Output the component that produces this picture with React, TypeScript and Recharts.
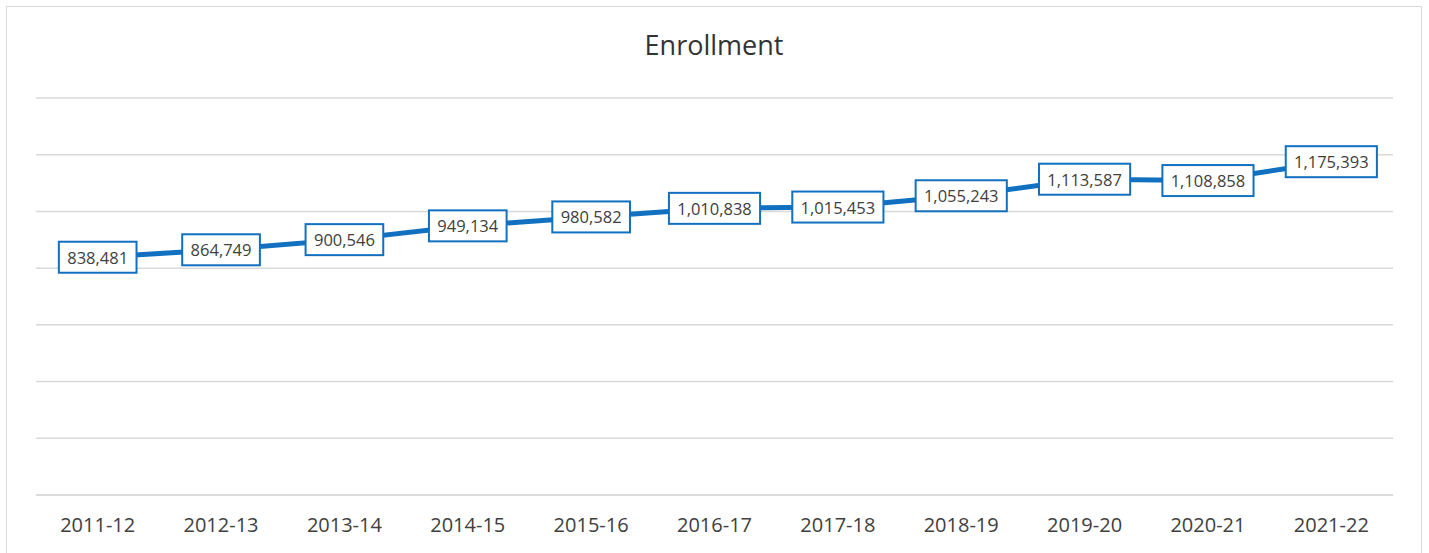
import React from "react";
import { LineChart, Line, XAxis, YAxis, CartesianGrid, LabelList } from "recharts";

const years = [
  "2011-12",
  "2012-13",
  "2013-14",
  "2014-15",
  "2015-16",
  "2016-17",
  "2017-18",
  "2018-19",
  "2019-20",
  "2020-21",
  "2021-22",
];

const enrollment = [
  838481, 864749, 900546, 949134, 980582, 1010838, 1015453, 1055243, 1113587,
  1108858, 1175393,
];

const yTicks = [0, 200000, 400000, 600000, 800000, 1000000, 1200000, 1400000];

const data = years.map((year, i) => ({ year, enrollment: enrollment[i] }));

const BLUE = "#1170C0";
const TEXT = "#404040";
const GRID = "#d9d9d9";
const FONT = "'Open Sans', 'Noto Sans', sans-serif";

const fmt = (v: number) => v.toLocaleString("en-US");

// boxed value label, centred on the point
const ValueBox = (props: any) => {
  const { x, y, value } = props;
  const s = fmt(value);
  const fs = 16.5;
  const digits = s.replace(/,/g, "").length;
  const commas = s.length - digits;
  const w = digits * fs * 0.572 + commas * fs * 0.245 + 17;
  const h = 31;
  return (
    <g>
      <rect
        x={x - w / 2}
        y={y - h / 2}
        width={w}
        height={h}
        fill="#ffffff"
        stroke={BLUE}
        strokeWidth={2}
      />
      <text
        x={x}
        y={y}
        textAnchor="middle"
        dominantBaseline="central"
        fill={TEXT}
        fontSize={fs}
        fontFamily={FONT}
      >
        {s}
      </text>
    </g>
  );
};

export default function App() {
  return (
    <div
      style={{
        position: "absolute",
        left: 6,
        top: 6,
        width: 1416,
        height: 560,
        boxSizing: "border-box",
        border: `1px solid ${GRID}`,
        background: "#ffffff",
        fontFamily: FONT,
      }}
    >
      <div
        style={{
          position: "absolute",
          left: 0,
          right: 0,
          top: 24,
          lineHeight: "28px",
          textAlign: "center",
          fontSize: 27,
          color: "#333333",
        }}
      >
        Enrollment
      </div>
      <LineChart
        width={1414}
        height={558}
        data={data}
        margin={{ top: 91, right: 28, left: 29, bottom: 30 }}
        style={{ fontFamily: FONT }}
      >
        <CartesianGrid vertical={false} stroke={GRID} strokeWidth={1.5} />
        <XAxis
          dataKey="year"
          scale="band"
          height={40}
          tickLine={false}
          axisLine={{ stroke: GRID, strokeWidth: 1.5 }}
          tick={{ fill: TEXT, fontSize: 20 }}
          tickMargin={17}
        />
        <YAxis hide domain={[0, 1400000]} ticks={yTicks} />
        <Line
          type="linear"
          dataKey="enrollment"
          stroke={BLUE}
          strokeWidth={5}
          dot={false}
          isAnimationActive={false}
        >
          <LabelList dataKey="enrollment" content={<ValueBox />} />
        </Line>
      </LineChart>
    </div>
  );
}
